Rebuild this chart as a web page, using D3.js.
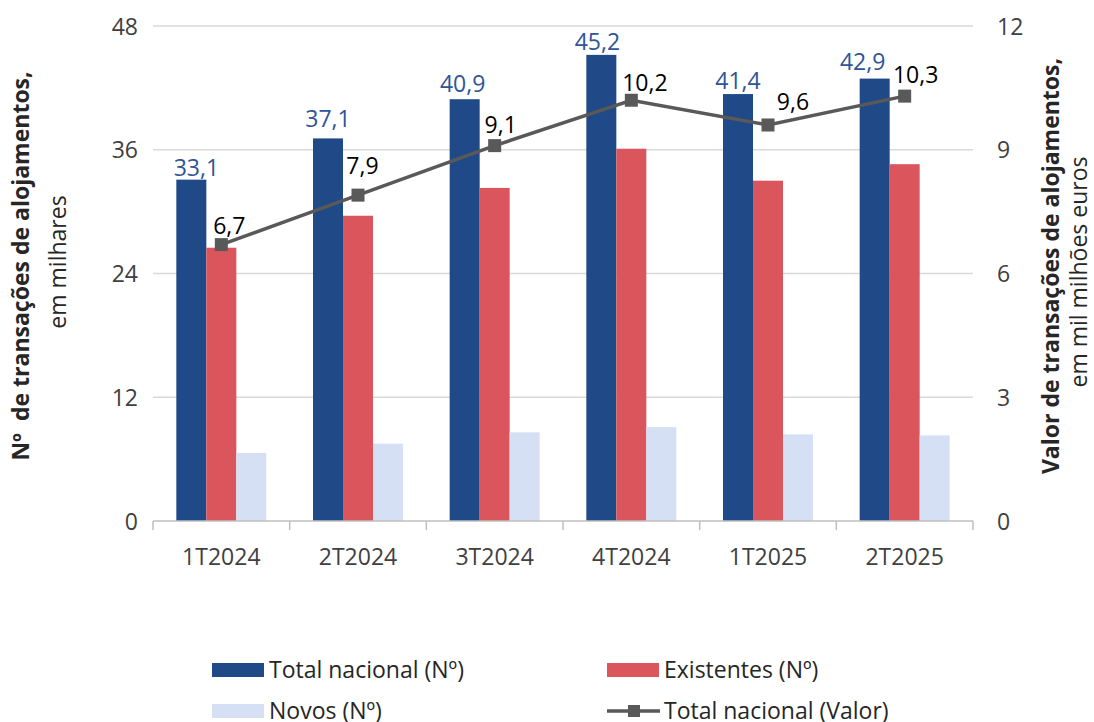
<!DOCTYPE html>
<html>
<head>
<meta charset="utf-8">
<script src="https://cdn.jsdelivr.net/npm/d3@7"></script>
<style>
  html, body { margin: 0; padding: 0; background: #fff; }
  svg { display: block; font-family: "Open Sans", "Noto Sans", sans-serif; }
</style>
</head>
<body>
<svg id="chart" width="1094" height="722"></svg>
<script>
// Quarterly housing transactions
const quarters   = ["1T2024", "2T2024", "3T2024", "4T2024", "1T2025", "2T2025"];
const totalCount = [33.1, 37.1, 40.9, 45.2, 41.4, 42.9];   // thousands
const existCount = [26.5, 29.6, 32.3, 36.1, 33.0, 34.6];   // thousands
const newCount   = [6.6, 7.5, 8.6, 9.1, 8.4, 8.3];         // thousands
const totalValue = [6.7, 7.9, 9.1, 10.2, 9.6, 10.3];       // thousand million euros
const leftTicks  = [0, 12, 24, 36, 48];
const rightTicks = [0, 3, 6, 9, 12];

// hand-placed label nudges (px)
const barLabelDx   = [5, 0, -2, -4, 0, -12];
const barLabelDy   = [-4, -11, -7, -5, -5, -9];
const valueLabelDx = [8, 4.5, 6, 13.5, 25, 11];
const valueLabelDy = [-11, -21, -12.5, -9, -15, -13.5];

const C = {
  total: "#1F4A87",
  exist: "#DB555C",
  novos: "#D5E0F5",
  line:  "#595959",
  grid:  "#D9D9D9",
  axis:  "#BFBFBF",
  text:  "#404040",
  barLabel: "#2E5597"
};
const FS = 23;

const svg = d3.select("#chart");
const plot = { left: 153, right: 973, top: 26, bottom: 521 };

const x = d3.scaleBand().domain(quarters).range([plot.left, plot.right]).padding(0);
const yL = d3.scaleLinear().domain([0, 48]).range([plot.bottom, plot.top]);
const yR = d3.scaleLinear().domain([0, 12]).range([plot.bottom, plot.top]);

const barW = 30;
const series = [
  { key: "total", vals: totalCount, color: C.total, off: -1.5 },
  { key: "exist", vals: existCount, color: C.exist, off: -0.5 },
  { key: "novos", vals: newCount,   color: C.novos, off: 0.5 }
];
const cx = q => x(q) + x.bandwidth() / 2;
const fmt = v => d3.format(".1f")(v).replace(".", ",");

// gridlines
svg.append("g")
  .selectAll("line")
  .data(leftTicks.filter(t => t > 0))
  .join("line")
  .attr("x1", plot.left).attr("x2", plot.right)
  .attr("y1", d => yL(d)).attr("y2", d => yL(d))
  .attr("stroke", C.grid).attr("stroke-width", 1.5);

// left axis labels
const axL = svg.append("g")
  .attr("transform", `translate(${plot.left - 15},0)`)
  .call(d3.axisLeft(yL).tickValues(leftTicks).tickSize(0).tickPadding(0));
axL.select(".domain").remove();
axL.selectAll("text").attr("font-size", FS).attr("fill", C.text)
  .attr("font-family", "Open Sans").attr("dy", "0.35em");

// right axis labels
const axR = svg.append("g")
  .attr("transform", `translate(${plot.right + 24},0)`)
  .call(d3.axisRight(yR).tickValues(rightTicks).tickSize(0).tickPadding(0));
axR.select(".domain").remove();
axR.selectAll("text").attr("font-size", FS).attr("fill", C.text)
  .attr("font-family", "Open Sans").attr("dy", "0.35em");

// bars
series.forEach(s => {
  svg.append("g")
    .selectAll("rect")
    .data(quarters.map((q, i) => ({ q, v: s.vals[i] })))
    .join("rect")
    .attr("x", d => cx(d.q) + s.off * barW)
    .attr("width", barW)
    .attr("y", d => yL(d.v))
    .attr("height", d => yL(0) - yL(d.v))
    .attr("fill", s.color);
});

// x axis line and category separators
svg.append("line")
  .attr("x1", plot.left).attr("x2", plot.right)
  .attr("y1", plot.bottom).attr("y2", plot.bottom)
  .attr("stroke", C.axis).attr("stroke-width", 1.5);
const bounds = quarters.map(q => x(q)).concat([plot.right]);
svg.append("g").selectAll("line").data(bounds).join("line")
  .attr("x1", d => d).attr("x2", d => d)
  .attr("y1", plot.bottom).attr("y2", plot.bottom + 9)
  .attr("stroke", C.axis).attr("stroke-width", 1.5);

// category labels
svg.append("g").selectAll("text").data(quarters).join("text")
  .attr("x", d => cx(d)).attr("y", 565)
  .attr("text-anchor", "middle").attr("font-size", FS).attr("fill", C.text)
  .text(d => d);

// total count labels
svg.append("g").selectAll("text").data(quarters).join("text")
  .attr("x", (d, i) => cx(d) - barW + barLabelDx[i])
  .attr("y", (d, i) => yL(totalCount[i]) + barLabelDy[i])
  .attr("text-anchor", "middle").attr("font-size", FS).attr("fill", C.barLabel)
  .text((d, i) => fmt(totalCount[i]));

// value line
const line = d3.line().x((d, i) => cx(quarters[i])).y(d => yR(d));
svg.append("path").datum(totalValue)
  .attr("d", line).attr("fill", "none")
  .attr("stroke", C.line).attr("stroke-width", 3.5);
const mk = 13;
svg.append("g").selectAll("rect").data(totalValue).join("rect")
  .attr("x", (d, i) => cx(quarters[i]) - mk / 2)
  .attr("y", d => yR(d) - mk / 2)
  .attr("width", mk).attr("height", mk)
  .attr("fill", C.line);
svg.append("g").selectAll("text").data(totalValue).join("text")
  .attr("x", (d, i) => cx(quarters[i]) + valueLabelDx[i])
  .attr("y", (d, i) => yR(d) + valueLabelDy[i])
  .attr("text-anchor", "middle").attr("font-size", FS).attr("fill", "#000")
  .text(d => fmt(d));

// axis titles
const titleL = svg.append("g");
titleL.append("text")
  .attr("transform", "translate(29,266) rotate(-90)")
  .attr("text-anchor", "middle").attr("font-size", FS).attr("font-weight", 700)
  .attr("fill", "#262626").attr("xml:space", "preserve")
  .text("Nº  de transações de alojamentos,");
titleL.append("text")
  .attr("transform", "translate(66,262) rotate(-90)")
  .attr("text-anchor", "middle").attr("font-size", FS)
  .attr("fill", "#262626").text("em milhares");

const titleR = svg.append("g");
titleR.append("text")
  .attr("transform", "translate(1059,266) rotate(-90)")
  .attr("text-anchor", "middle").attr("font-size", FS).attr("font-weight", 700)
  .attr("fill", "#262626").text("Valor de transações de alojamentos,");
titleR.append("text")
  .attr("transform", "translate(1087,272) rotate(-90)")
  .attr("text-anchor", "middle").attr("font-size", FS)
  .attr("fill", "#262626").text("em mil milhões euros");

// legend
const legendItems = [
  { label: "Total nacional (Nº)",    type: "rect", color: C.total, x: 212, y: 670 },
  { label: "Existentes (Nº)",        type: "rect", color: C.exist, x: 607, y: 670 },
  { label: "Novos (Nº)",             type: "rect", color: C.novos, x: 212, y: 711 },
  { label: "Total nacional (Valor)", type: "line", color: C.line,  x: 607, y: 711 }
];
const lg = svg.append("g").selectAll("g").data(legendItems).join("g")
  .attr("transform", d => `translate(${d.x},${d.y})`);
lg.filter(d => d.type === "rect").append("rect")
  .attr("x", 0).attr("y", -7).attr("width", 52).attr("height", 14)
  .attr("fill", d => d.color);
lg.filter(d => d.type === "line").append("line")
  .attr("x1", 0).attr("x2", 53).attr("y1", 0).attr("y2", 0)
  .attr("stroke", d => d.color).attr("stroke-width", 3.5);
lg.filter(d => d.type === "line").append("rect")
  .attr("x", 27 - 6).attr("y", -6).attr("width", 12).attr("height", 12)
  .attr("fill", d => d.color);
lg.append("text")
  .attr("x", 57).attr("y", 8)
  .attr("font-size", FS).attr("fill", "#262626")
  .text(d => d.label);
</script>
</body>
</html>
